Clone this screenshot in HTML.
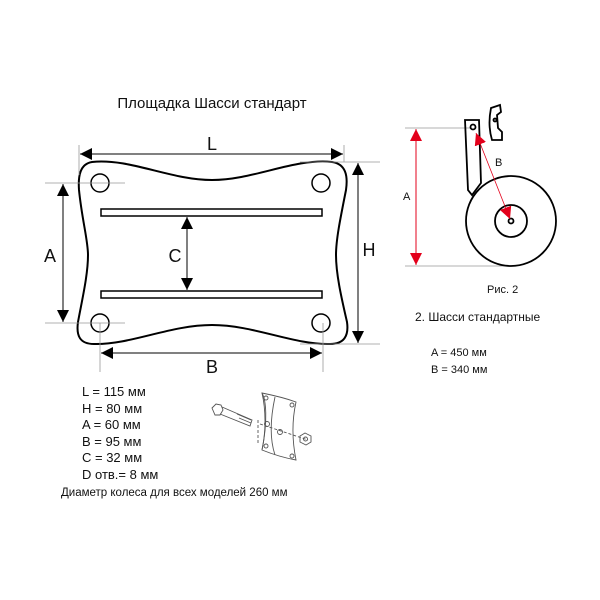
<!DOCTYPE html>
<html><head><meta charset="utf-8"><style>
html,body{margin:0;padding:0;background:#fff;}
svg{display:block;}
text{font-family:"Liberation Sans",sans-serif;fill:#111;}
</style></head><body>
<svg width="600" height="600" viewBox="0 0 600 600" xmlns="http://www.w3.org/2000/svg">
<defs>
<marker id="ab" viewBox="0 0 10 10" refX="10" refY="5" markerWidth="7" markerHeight="6" orient="auto-start-reverse" markerUnits="userSpaceOnUse"><path d="M0,0L10,5L0,10z" fill="#000"/></marker>
<marker id="bl" viewBox="0 0 10 10" refX="10" refY="5" markerWidth="12" markerHeight="12" orient="auto-start-reverse" markerUnits="userSpaceOnUse"><path d="M0,0L10,5L0,10z" fill="#000"/></marker>
<marker id="rd" viewBox="0 0 10 10" refX="10" refY="5" markerWidth="12" markerHeight="12" orient="auto-start-reverse" markerUnits="userSpaceOnUse"><path d="M0,0L10,5L0,10z" fill="#e3001b"/></marker>
</defs>
<text x="212" y="108" font-size="15" text-anchor="middle">Площадка Шасси стандарт</text>

<!-- plate -->
<path d="M92,162 C130,158 170,180 212,180 C254,180 294,158 332,162 C346,164 348,176 346,190 C340,220 336,240 336,255 C336,275 342,300 347,322 C349,336 344,344 330,344 C294,345 254,325 212,325 C170,325 130,345 94,344 C80,344 76,336 78,322 C82,300 88,275 88,255 C88,240 82,220 79,190 C78,176 80,164 92,162 Z" fill="none" stroke="#000" stroke-width="2"/>
<circle cx="100" cy="183" r="9" fill="none" stroke="#000" stroke-width="1.5"/>
<circle cx="321" cy="183" r="9" fill="none" stroke="#000" stroke-width="1.5"/>
<circle cx="100" cy="323" r="9" fill="none" stroke="#000" stroke-width="1.5"/>
<circle cx="321" cy="323" r="9" fill="none" stroke="#000" stroke-width="1.5"/>
<rect x="101" y="209" width="221" height="7" fill="none" stroke="#000" stroke-width="1.5"/>
<rect x="101" y="291" width="221" height="7" fill="none" stroke="#000" stroke-width="1.5"/>

<!-- dims -->
<g stroke="#999" stroke-width="0.8">
<line x1="79" y1="145" x2="79" y2="175"/>
<line x1="344" y1="145" x2="344" y2="162"/>
<line x1="300" y1="162" x2="380" y2="162"/>
<line x1="300" y1="344" x2="380" y2="344"/>
<line x1="45" y1="183" x2="125" y2="183"/>
<line x1="45" y1="323" x2="125" y2="323"/>
<line x1="100" y1="323" x2="100" y2="372"/>
<line x1="323" y1="323" x2="323" y2="372"/>
</g>
<g stroke="#000" stroke-width="1">
<line x1="80" y1="154" x2="343" y2="154" marker-start="url(#bl)" marker-end="url(#bl)"/>
<line x1="358" y1="163" x2="358" y2="343" marker-start="url(#bl)" marker-end="url(#bl)"/>
<line x1="63" y1="184" x2="63" y2="322" marker-start="url(#bl)" marker-end="url(#bl)"/>
<line x1="187" y1="217" x2="187" y2="290" marker-start="url(#bl)" marker-end="url(#bl)"/>
<line x1="101" y1="353" x2="322" y2="353" marker-start="url(#bl)" marker-end="url(#bl)"/>
</g>
<text x="212" y="150" font-size="18" text-anchor="middle">L</text>
<text x="369" y="256" font-size="18" text-anchor="middle">H</text>
<text x="50" y="262" font-size="18" text-anchor="middle">A</text>
<text x="175" y="262" font-size="18" text-anchor="middle">C</text>
<text x="212" y="373" font-size="18" text-anchor="middle">B</text>

<!-- specs -->
<g font-size="13">
<text x="82" y="396">L  = 115 мм</text>
<text x="82" y="413">H = 80 мм</text>
<text x="82" y="429">A = 60 мм</text>
<text x="82" y="446">B = 95 мм</text>
<text x="82" y="462">C = 32 мм</text>
<text x="82" y="479">D отв.= 8 мм</text>
<text x="61" y="496" font-size="11.5">Диаметр колеса для всех моделей  260 мм</text>
</g>

<!-- bolt assembly -->
<g fill="none" stroke="#555" stroke-width="0.9">
<path d="M212,408 l4,-4 l5,1 l2,5 l-3,5 l-5,0 z"/>
<path d="M222,407 L252,420 L250,426 L220,414"/>
<path d="M237,414 l14,6 M239,418 l12,5"/>
<path d="M262,393 C272,395 285,398 296,402 C292,420 292,440 296,460 C285,458 272,454 262,450 C266,432 266,410 262,393 Z"/>
<path d="M262,393 C266,400 268,420 262,450 M275,397 C270,420 270,440 275,455"/>
<path d="M258,420 l0,25 M260,424 L308,440" stroke-dasharray="3,2"/>
<circle cx="266" cy="398" r="2"/><circle cx="292" cy="405" r="2"/><circle cx="266" cy="446" r="2"/><circle cx="292" cy="456" r="2"/>
<circle cx="267" cy="424" r="2.5"/><circle cx="280" cy="432" r="2.5"/>
<path d="M300,436 l5,-3 l6,3 l0,6 l-5,3 l-6,-3 z"/><circle cx="305.5" cy="439" r="2"/>
</g>

<!-- wheel figure -->
<g stroke="#999" stroke-width="0.8">
<line x1="405" y1="128" x2="470" y2="128"/>
<line x1="405" y1="266" x2="505" y2="266"/>
</g>
<line x1="416" y1="129" x2="416" y2="265" stroke="#e3001b" stroke-width="1" marker-start="url(#rd)" marker-end="url(#rd)"/>
<text x="403" y="200" font-size="11">A</text>
<g fill="none" stroke="#000" stroke-width="1.8">
<path d="M465,120 L479,120 L481,183 L472,195 L468,190 Z"/>
<circle cx="473" cy="127" r="2.5"/>
<circle cx="511" cy="221" r="45" fill="#fff"/>
<circle cx="511" cy="221" r="16"/>
<circle cx="511" cy="221" r="2.5"/>
<path d="M491,108 L500,105 L501,112 L497,115 L498,128 L502,132 L502,140 L492,140 C489,130 489,118 491,108 Z"/>
<circle cx="495" cy="120" r="1.5"/>
</g>
<line x1="476" y1="133" x2="510" y2="219" stroke="#e3001b" stroke-width="0.8" marker-start="url(#rd)" marker-end="url(#rd)"/>
<text x="495" y="166" font-size="11">B</text>

<text x="487" y="293" font-size="11">Рис. 2</text>
<text x="415" y="321" font-size="12">2. Шасси стандартные</text>
<text x="431" y="356" font-size="11">A = 450 мм</text>
<text x="431" y="373" font-size="11">B = 340 мм</text>
</svg>
</body></html>
